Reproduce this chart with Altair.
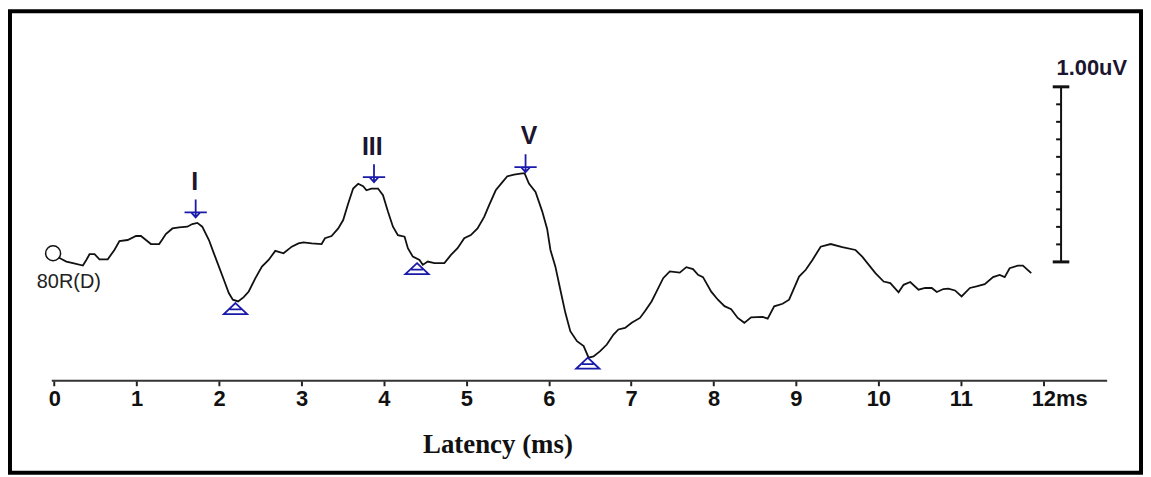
import altair as alt
import pandas as pd

# ---- trace (latency in ms, amplitude in uV) ----
ms_vals = [
    0.000, 0.087, 0.147, 0.227, 0.348, 0.389, 0.428, 0.489, 0.549, 0.649,
    0.730, 0.791, 0.891, 0.992, 1.052, 1.113, 1.173, 1.273, 1.313, 1.354,
    1.434, 1.515, 1.615, 1.675, 1.736, 1.796, 1.877, 1.937, 1.998, 2.058,
    2.118, 2.167, 2.231, 2.299, 2.360, 2.441, 2.520, 2.601, 2.682, 2.782,
    2.882, 2.963, 3.024, 3.124, 3.244, 3.285, 3.365, 3.446, 3.506, 3.567,
    3.627, 3.688, 3.748, 3.788, 3.848, 3.929, 3.989, 4.050, 4.110, 4.170,
    4.251, 4.291, 4.351, 4.432, 4.472, 4.532, 4.613, 4.734, 4.814, 4.894,
    4.975, 5.055, 5.136, 5.217, 5.277, 5.357, 5.438, 5.498, 5.579, 5.658,
    5.707, 5.760, 5.840, 5.920, 5.981, 6.021, 6.081, 6.141, 6.202, 6.262,
    6.343, 6.424, 6.484, 6.544, 6.624, 6.705, 6.786, 6.846, 6.926, 7.007,
    7.107, 7.167, 7.248, 7.308, 7.389, 7.469, 7.590, 7.670, 7.751, 7.812,
    7.872, 7.972, 8.053, 8.133, 8.214, 8.294, 8.374, 8.455, 8.596, 8.657,
    8.736, 8.838, 8.917, 9.038, 9.119, 9.200, 9.300, 9.421, 9.562, 9.723,
    9.804, 9.964, 10.064, 10.145, 10.245, 10.306, 10.387, 10.487, 10.568, 10.648,
    10.709, 10.788, 10.849, 10.930, 11.010, 11.111, 11.191, 11.291, 11.392, 11.472,
    11.533, 11.593, 11.693, 11.754, 11.855,
]
uv_vals = [
    0.040, 0.017, 0.002, -0.007, -0.021, 0.011, 0.044, 0.044, 0.015, 0.015,
    0.068, 0.119, 0.125, 0.148, 0.148, 0.125, 0.102, 0.102, 0.129, 0.159,
    0.191, 0.197, 0.201, 0.216, 0.223, 0.201, 0.125, 0.049, -0.027, -0.102,
    -0.178, -0.216, -0.226, -0.201, -0.169, -0.093, -0.027, 0.011, 0.063, 0.049,
    0.087, 0.106, 0.112, 0.106, 0.102, 0.135, 0.148, 0.191, 0.239, 0.334,
    0.419, 0.446, 0.432, 0.409, 0.419, 0.419, 0.381, 0.286, 0.201, 0.153,
    0.144, 0.078, 0.030, 0.011, -0.017, 0.002, -0.007, -0.007, 0.040, 0.078,
    0.135, 0.153, 0.191, 0.257, 0.324, 0.409, 0.456, 0.489, 0.498, 0.504,
    0.507, 0.447, 0.399, 0.290, 0.188, 0.068, -0.027, -0.159, -0.291, -0.396,
    -0.453, -0.481, -0.547, -0.540, -0.510, -0.472, -0.415, -0.386, -0.377, -0.348,
    -0.320, -0.282, -0.226, -0.170, -0.093, -0.054, -0.061, -0.030, -0.041, -0.074,
    -0.087, -0.170, -0.216, -0.253, -0.270, -0.320, -0.348, -0.317, -0.314, -0.324,
    -0.254, -0.239, -0.216, -0.084, -0.045, 0.011, 0.087, 0.102, 0.084, 0.068,
    0.030, -0.064, -0.112, -0.121, -0.174, -0.131, -0.115, -0.159, -0.149, -0.149,
    -0.172, -0.155, -0.153, -0.163, -0.197, -0.149, -0.140, -0.127, -0.087, -0.074,
    -0.087, -0.036, -0.021, -0.021, -0.064,
]
assert len(ms_vals) == len(uv_vals)

# ---- wave markers ----
peak_names = ["I", "III", "V"]
peak_ms = [1.716, 3.880, 5.719]
peak_uv = [0.254, 0.456, 0.513]
label_ms = [1.705, 3.859, 5.760]
label_uv = [0.413, 0.612, 0.674]
trough_ms = [2.199, 4.402, 6.474]
trough_uv = [-0.235, -0.007, -0.547]

# ---- axis ----
x_ticks = list(range(13))
tick_labels = [str(i) for i in range(12)] + ["12ms"]
axis_line_ms = [-0.030, 12.776]
axis_line_uv = -0.679

# ---- channel label / start circle ----
channel_name = "80R(D)"
channel_ms = [0.177]
channel_uv = [-0.148]
start_ms = [-0.014]
start_uv = [0.049]

# ---- amplitude scale bar ----
bar_ms = 12.217
bar_lo, bar_hi = 0.0, 1.0
bar_cap_ms = [12.116, 12.317]
bar_minor_ms = [12.157, 12.217]
bar_minor_uv = [0.1, 0.2, 0.3, 0.4, 0.5, 0.6, 0.7, 0.8, 0.9]
bar_text = "1.00uV"
bar_text_ms = [12.59]
bar_text_uv = [1.068]

X_DOM = [-0.537, 13.187]
Y_DOM = [-1.2045, 1.4318]
BLUE = "#1a1aaa"
INK = "#111111"

xscale = alt.Scale(domain=X_DOM, nice=False, zero=False)
yscale = alt.Scale(domain=Y_DOM, nice=False, zero=False)

label_expr = f"datum.value == {x_ticks[-1]} ? '{tick_labels[-1]}' : datum.label"
xaxis = alt.Axis(
    values=x_ticks,
    labelExpr=label_expr,
    domain=False,
    grid=False,
    ticks=True,
    tickSize=5,
    tickWidth=2,
    tickColor="#222222",
    labelFont="Liberation Sans Narrow, Arial Narrow, Liberation Sans, sans-serif",
    labelFontSize=22,
    labelFontWeight="bold",
    labelColor=INK,
    labelPadding=3,
    labelOverlap=False,
    labelFlush=False,
    labelOffset={"condition": {"test": "datum.value == 12", "value": 16}, "value": 0},
    offset=-92.5,
    title="Latency (ms)",
    titleFont="Liberation Serif",
    titleFontSize=27,
    titleFontWeight="bold",
    titleColor=INK,
    titleX=490,
    titleY=72,
    titleAlign="center",
    titleBaseline="alphabetic",
)


def X(field="ms"):
    return alt.X(f"{field}:Q", scale=xscale, axis=xaxis)


def Y(field="v"):
    return alt.Y(f"{field}:Q", scale=yscale, axis=None)


trace_df = pd.DataFrame({"ms": ms_vals, "v": uv_vals})
trace = alt.Chart(trace_df).mark_line(color=INK, strokeWidth=1.8).encode(x=X(), y=Y())

axis_df = pd.DataFrame({"ms": [axis_line_ms[0]], "ms2": [axis_line_ms[1]], "v": [axis_line_uv]})
axis_line = alt.Chart(axis_df).mark_rule(color="#333333", strokeWidth=2).encode(
    x=X(), x2=alt.X2("ms2:Q"), y=Y()
)

start_df = pd.DataFrame({"ms": start_ms, "v": start_uv})
start = alt.Chart(start_df).mark_point(
    shape="circle", size=225, filled=True, fill="white", stroke=INK, strokeWidth=1.5, opacity=1
).encode(x=X(), y=Y())

chan_df = pd.DataFrame({"ms": channel_ms, "v": channel_uv, "t": [channel_name]})
chan = alt.Chart(chan_df).mark_text(
    font="Liberation Sans", fontSize=20, color="#222222", align="center", baseline="alphabetic"
).encode(x=X(), y=Y(), text="t:N")

peak_shape = "M0,-1.6L0,0M-1,-0.45L1,-0.45M-0.4,-0.45L0,0L0.4,-0.45Z"
trough_shape = "M0,0L1,0.95L-1,0.95ZM-0.5,0.55L0.5,0.55"

peak_df = pd.DataFrame({"ms": peak_ms, "v": peak_uv})
peaks = alt.Chart(peak_df).mark_point(
    shape=peak_shape, size=502, filled=False, color=BLUE, strokeWidth=1.8, opacity=1
).encode(x=X(), y=Y())

trough_df = pd.DataFrame({"ms": trough_ms, "v": trough_uv})
troughs = alt.Chart(trough_df).mark_point(
    shape=trough_shape, size=548, filled=False, color=BLUE, strokeWidth=1.8, opacity=1
).encode(x=X(), y=Y())

lab_df = pd.DataFrame({"ms": label_ms, "v": label_uv, "t": peak_names})
labels = alt.Chart(lab_df).mark_text(
    font="Liberation Sans", fontSize=25, fontWeight="bold", color="#1b1530",
    align="center", baseline="alphabetic"
).encode(x=X(), y=Y(), text="t:N")

bar_df = pd.DataFrame({"ms": [bar_ms], "v": [bar_lo], "v2": [bar_hi]})
bar = alt.Chart(bar_df).mark_rule(color=INK, strokeWidth=2).encode(
    x=X(), y=Y(), y2=alt.Y2("v2:Q")
)
caps_df = pd.DataFrame({"ms": [bar_cap_ms[0]] * 2, "ms2": [bar_cap_ms[1]] * 2, "v": [bar_lo, bar_hi]})
caps = alt.Chart(caps_df).mark_rule(color=INK, strokeWidth=3).encode(
    x=X(), x2=alt.X2("ms2:Q"), y=Y()
)
minor_df = pd.DataFrame({
    "ms": [bar_minor_ms[0]] * len(bar_minor_uv),
    "ms2": [bar_minor_ms[1]] * len(bar_minor_uv),
    "v": bar_minor_uv,
})
minor = alt.Chart(minor_df).mark_rule(color=INK, strokeWidth=2).encode(
    x=X(), x2=alt.X2("ms2:Q"), y=Y()
)
bar_txt_df = pd.DataFrame({"ms": bar_text_ms, "v": bar_text_uv, "t": [bar_text]})
bar_txt = alt.Chart(bar_txt_df).mark_text(
    font="Liberation Sans", fontSize=22, fontWeight="bold", color="#1b1530",
    align="center", baseline="alphabetic"
).encode(x=X(), y=Y(), text="t:N")

chart = (
    alt.layer(trace, axis_line, start, chan, peaks, troughs, labels, bar, caps, minor, bar_txt)
    .properties(
        width=1137,
        height=464,
        padding={"left": 2, "top": 2, "right": 2, "bottom": 2},
        autosize=alt.AutoSizeParams(type="none"),
        background="white",
    )
    .configure_view(stroke="black", strokeWidth=4)
)

chart.save("out.html", embed_options={"renderer": "svg", "actions": False})
